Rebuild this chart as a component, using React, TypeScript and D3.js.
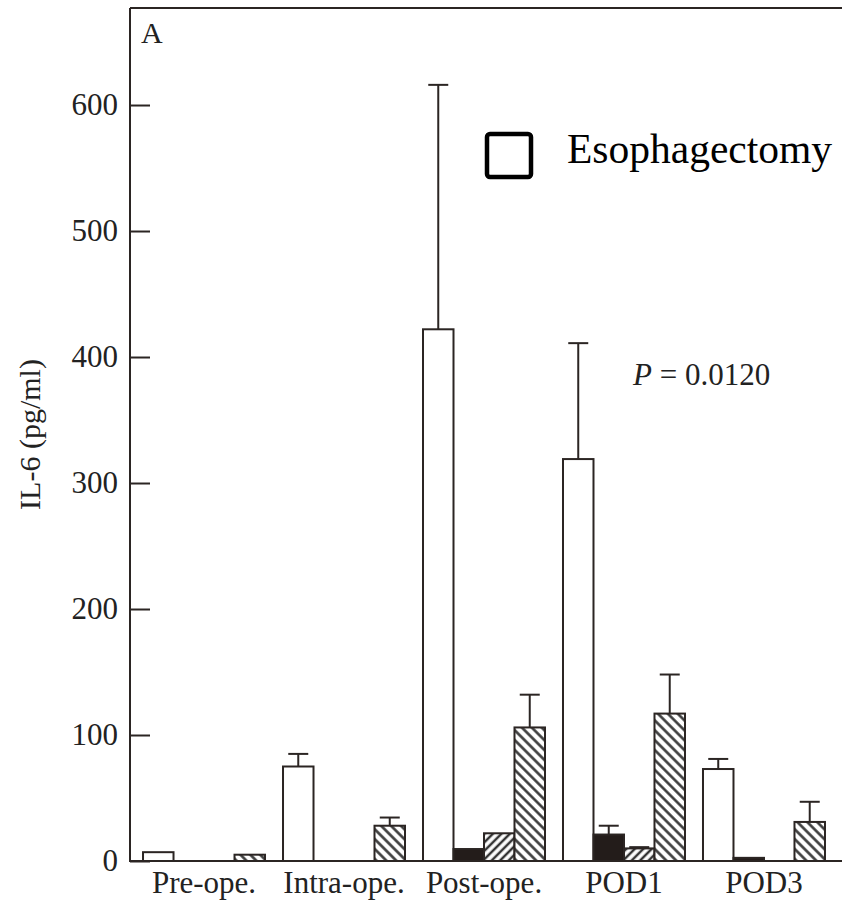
import React, { useEffect, useRef } from "react";
import * as d3 from "d3";

// values
const categories = ["Pre-ope.", "Intra-ope.", "Post-ope.", "POD1", "POD3"];
const seriesKeys = ["esophagectomy", "black", "lightHatch", "hatch"];

const esophagectomy = [7, 75, 422, 319, 73];
const esophagectomyErr = [null, 85, 616, 411, 81];
const blackSeries = [0, 0, 9.5, 21, 2.5];
const blackErr = [null, null, null, 28, null];
const lightHatch = [0, 0, 22, 10, 0];
const lightHatchErr = [null, null, null, 11, null];
const hatch = [5, 28, 106, 117, 31];
const hatchErr = [null, 34.5, 132, 148, 47];

const yTicks = [0, 100, 200, 300, 400, 500, 600];

const FONT = "Liberation Serif, Times New Roman, serif";
const INK = "#2b2523";

export default function App() {
  const ref = useRef<SVGSVGElement>(null);

  useEffect(() => {
    const svg = d3.select(ref.current);
    svg.selectAll("*").remove();

    const axisX = 130, baseY = 861, topY = 8;

    const x = d3.scaleBand().domain(categories).range([axisX, 838])
      .paddingInner(0.1286).paddingOuter(0.093);
    const xs = d3.scaleBand().domain(seriesKeys).range([0, x.bandwidth()]);
    const y = d3.scaleLinear().domain([0, 677]).range([baseY, topY]);

    // hatch patterns
    const defs = svg.append("defs");
    const addPattern = (id, size, angle) => {
      const p = defs.append("pattern").attr("id", id)
        .attr("patternUnits", "userSpaceOnUse")
        .attr("width", size).attr("height", size)
        .attr("patternTransform", `rotate(${angle})`);
      p.append("rect").attr("width", size).attr("height", size).attr("fill", "white");
      p.append("line").attr("x1", size / 2).attr("y1", 0).attr("x2", size / 2).attr("y2", size)
        .attr("stroke", "#333").attr("stroke-width", 2.5);
    };
    addPattern("hatchBack", 7, -45);
    addPattern("hatchFwd", 6, 45);

    const rows = categories.map((c, i) => ({
      cat: c,
      vals: [
        { key: "esophagectomy", v: esophagectomy[i], e: esophagectomyErr[i], fill: "white" },
        { key: "black", v: blackSeries[i], e: blackErr[i], fill: "#231c1a" },
        { key: "lightHatch", v: lightHatch[i], e: lightHatchErr[i], fill: "url(#hatchFwd)" },
        { key: "hatch", v: hatch[i], e: hatchErr[i], fill: "url(#hatchBack)" },
      ],
    }));

    // top frame line
    svg.append("line").attr("x1", axisX).attr("x2", 842).attr("y1", topY).attr("y2", topY)
      .attr("stroke", INK).attr("stroke-width", 2);

    // y axis
    const yAxis = svg.append("g").attr("transform", `translate(${axisX},0)`)
      .call(d3.axisLeft(y).tickValues(yTicks).tickSize(-20).tickPadding(12));
    yAxis.select(".domain").remove();
    yAxis.selectAll("line").attr("stroke", INK).attr("stroke-width", 2);
    yAxis.selectAll("text").attr("font-family", FONT).attr("font-size", 31).attr("fill", "#222");
    svg.append("line").attr("x1", axisX).attr("x2", axisX).attr("y1", topY).attr("y2", baseY + 1)
      .attr("stroke", INK).attr("stroke-width", 2);

    svg.append("text")
      .attr("transform", `translate(40, ${(topY + baseY) / 2}) rotate(-90)`)
      .attr("text-anchor", "middle")
      .attr("font-family", FONT).attr("font-size", 30).attr("fill", "#222")
      .text("IL-6 (pg/ml)");

    // bars
    const groups = svg.selectAll(".grp").data(rows).join("g").attr("class", "grp")
      .attr("transform", d => `translate(${x(d.cat)},0)`);

    groups.selectAll(".bar").data(d => d.vals.filter(v => v.v > 0)).join("rect")
      .attr("class", "bar")
      .attr("x", d => xs(d.key))
      .attr("y", d => y(d.v))
      .attr("width", xs.bandwidth())
      .attr("height", d => baseY - y(d.v))
      .attr("fill", d => d.fill)
      .attr("stroke", INK).attr("stroke-width", 2);

    const errs = groups.selectAll(".err").data(d => d.vals.filter(v => v.e != null)).join("g")
      .attr("class", "err");
    errs.append("line")
      .attr("x1", d => xs(d.key) + xs.bandwidth() / 2).attr("x2", d => xs(d.key) + xs.bandwidth() / 2)
      .attr("y1", d => y(d.v)).attr("y2", d => y(d.e))
      .attr("stroke", INK).attr("stroke-width", 2);
    errs.append("line")
      .attr("x1", d => xs(d.key) + xs.bandwidth() / 2 - 10).attr("x2", d => xs(d.key) + xs.bandwidth() / 2 + 10)
      .attr("y1", d => y(d.e)).attr("y2", d => y(d.e))
      .attr("stroke", INK).attr("stroke-width", 2);

    // baseline + category labels
    svg.append("line").attr("x1", axisX).attr("x2", 842).attr("y1", baseY).attr("y2", baseY)
      .attr("stroke", INK).attr("stroke-width", 2);
    const xAxis = svg.append("g").attr("transform", `translate(0,${baseY})`)
      .call(d3.axisBottom(x).tickSize(0).tickPadding(10));
    xAxis.select(".domain").remove();
    xAxis.selectAll("text").attr("font-family", FONT).attr("font-size", 31).attr("fill", "#222");

    // panel letter and p-value
    svg.append("text").attr("x", 141).attr("y", 43)
      .attr("font-family", FONT).attr("font-size", 30).attr("fill", "#222").text("A");
    const pText = svg.append("text").attr("x", 633).attr("y", 385)
      .attr("font-family", FONT).attr("font-size", 31).attr("fill", "#222");
    pText.append("tspan").attr("font-style", "italic").text("P");
    pText.append("tspan").text(" = 0.0120");

    // legend
    svg.append("rect").attr("x", 487).attr("y", 134).attr("width", 44).attr("height", 43)
      .attr("rx", 3).attr("fill", "white").attr("stroke", "black").attr("stroke-width", 4.5);
    svg.append("text").attr("x", 567).attr("y", 163)
      .attr("font-family", FONT).attr("font-size", 41.5).attr("fill", "black")
      .text("Esophagectomy");
  }, []);

  return (
    <svg ref={ref} width={842} height={906}
      style={{ position: "absolute", left: 0, top: 0, background: "white" }} />
  );
}
